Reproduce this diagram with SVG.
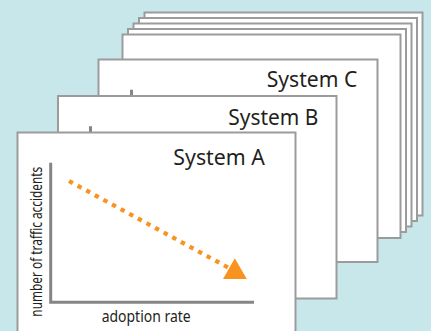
<svg xmlns="http://www.w3.org/2000/svg" width="431" height="331" viewBox="0 0 431 331">
<style>
.card{fill:#fff;stroke:#9b9b9b;stroke-width:2}
.axis{fill:none;stroke:#858585;stroke-width:3}
.title{font-family:"Noto Sans","Liberation Sans",sans-serif;font-size:22.5px;fill:#231f20}
.lbl{font-family:"Noto Sans","Liberation Sans",sans-serif;font-size:15.5px;fill:#231f20}
.trend{fill:none;stroke:#f7931e;stroke-width:4.2;stroke-dasharray:4.4 5.4}
</style>
<rect width="431" height="331" fill="#c8e7eb"/>
<g id="stack">
<rect class="card" x="144.5" y="12.5" width="278" height="203"/>
<rect class="card" x="139" y="18" width="278" height="203"/>
<rect class="card" x="133.5" y="23.5" width="278" height="203"/>
<rect class="card" x="128" y="29" width="278" height="203"/>
<rect class="card" x="122.5" y="34.5" width="278" height="203.5"/>
</g>
<g id="systemC">
<rect class="card" x="98.5" y="59.5" width="279" height="202.5"/>
<path class="axis" d="M131.5 89.7V229.3H254"/>
<text class="title" x="357.3" y="86.7" text-anchor="end" textLength="90.6" lengthAdjust="spacingAndGlyphs">System C</text>
</g>
<g id="systemB">
<rect class="card" x="58" y="96" width="278.5" height="202.5"/>
<path class="axis" d="M90.5 126.2V265.8H214"/>
<text class="title" x="318.3" y="125" text-anchor="end" textLength="90" lengthAdjust="spacingAndGlyphs">System B</text>
</g>
<g id="systemA">
<rect class="card" x="17.5" y="132.5" width="278" height="210"/>
<path class="axis" d="M50.7 162.7V302.3H254"/>
<text class="title" x="265" y="165" text-anchor="end" textLength="91.7" lengthAdjust="spacingAndGlyphs">System A</text>
<text class="lbl" x="146.2" y="322.3" text-anchor="middle" textLength="89" lengthAdjust="spacingAndGlyphs">adoption rate</text>
<text class="lbl" transform="translate(41.5 241.7) rotate(-90)" x="0" y="0" text-anchor="middle" textLength="150" lengthAdjust="spacingAndGlyphs">number of traffic accidents</text>
</g>
<g id="connectors">
<path class="trend" d="M69 181 L229 268"/>
<polygon points="234.8,258.3 246.8,279 223,279" fill="#f7931e"/>
</g>
</svg>
